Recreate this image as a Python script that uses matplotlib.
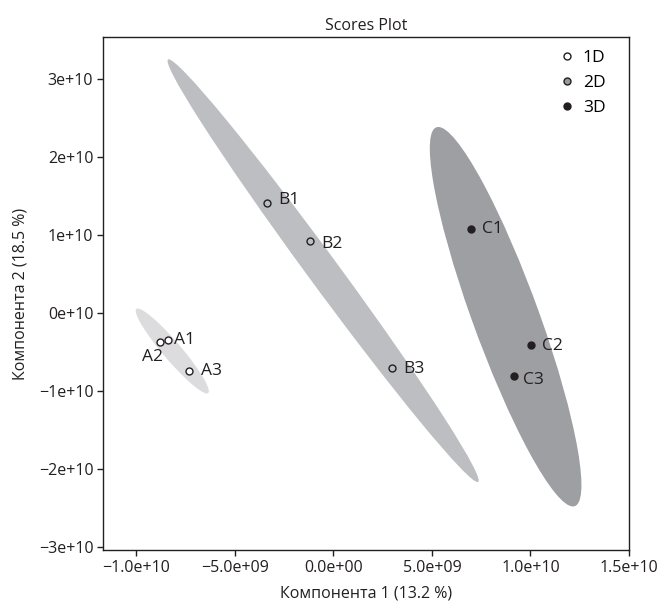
import numpy as np
import matplotlib
matplotlib.use("Agg")
import matplotlib.pyplot as plt
from matplotlib.patches import Ellipse
from matplotlib.lines import Line2D

plt.rcParams['font.family'] = ['Open Sans', 'DejaVu Sans']

# Data
groups = ["1D", "2D", "3D"]
labels_A = ["A1", "A2", "A3"]
x_A = [-8.40e9, -8.81e9, -7.34e9]
y_A = [-3.46e9, -3.72e9, -7.44e9]
labels_B = ["B1", "B2", "B3"]
x_B = [-3.37e9, -1.19e9, 2.98e9]
y_B = [14.1e9, 9.23e9, -7.05e9]
labels_C = ["C1", "C2", "C3"]
x_C = [6.99e9, 10.04e9, 9.18e9]
y_C = [10.77e9, -4.1e9, -8.1e9]

xticks = [-1.0e10, -5.0e9, 0.0, 5.0e9, 1.0e10, 1.5e10]
xticklabels = ["\u22121.0e+10", "\u22125.0e+09", "0.0e+00", "5.0e+09", "1.0e+10", "1.5e+10"]
yticks = [3e10, 2e10, 1e10, 0, -1e10, -2e10, -3e10]
yticklabels = ["3e+10", "2e+10", "1e+10", "0e+10", "\u22121e+10", "\u22122e+10", "\u22123e+10"]

ell_colors = ["#dcdcde", "#bdbec2", "#9e9fa3"]
pt_face = ["white", "#9a9a9a", "#231f20"]
pt_face_plot = ["white", "#bdbec2", "#231f20"]
edge = "#231f20"
txt = "#231f20"

fig = plt.figure(figsize=(6.57, 6.02), dpi=100)
ax = fig.add_axes([103/657, 1-550/602, 526/657, 513/602])

def conf_ellipse(xs, ys, color):
    xs = np.asarray(xs); ys = np.asarray(ys)
    cov = np.cov(xs, ys)
    vals, vecs = np.linalg.eigh(cov)
    order = vals.argsort()[::-1]
    vals, vecs = vals[order], vecs[:, order]
    t = np.sqrt(5.991464547107979)  # chi2(0.95, 2)
    w, h = 2 * t * np.sqrt(vals)
    ang = np.degrees(np.arctan2(vecs[1, 0], vecs[0, 0]))
    e = Ellipse((xs.mean(), ys.mean()), w, h, angle=ang, facecolor=color,
                edgecolor='none', zorder=1)
    ax.add_patch(e)

data = [(x_A, y_A, labels_A), (x_B, y_B, labels_B), (x_C, y_C, labels_C)]
for (xs, ys, labs), ec in zip(data, ell_colors):
    conf_ellipse(xs, ys, ec)

for (xs, ys, labs), fc in zip(data, pt_face_plot):
    ax.plot(xs, ys, 'o', ms=5, mfc=fc, mec=edge, mew=1.0, ls='none', zorder=3)

offsets = {"A1": (4, 0), "A2": (-13, -11), "A3": (9, 0),
           "B1": (8, 2), "B2": (8, -2), "B3": (8, -1),
           "C1": (8, 0), "C2": (8, -1), "C3": (6, -3)}
for xs, ys, labs in data:
    for x, y, l in zip(xs, ys, labs):
        dx, dy = offsets[l]
        ax.annotate(l, (x, y), xytext=(dx, dy), textcoords='offset points',
                    ha='left', va='center', fontsize=12.5, color=txt, zorder=4)

ax.set_xlim(-1.17e10, 1.5e10)
ax.set_ylim(-3.04e10, 3.54e10)
ax.set_xticks(xticks)
ax.set_xticklabels(xticklabels)
ax.set_yticks(yticks)
ax.set_yticklabels(yticklabels)
ax.tick_params(direction='out', length=4, width=1, colors=txt, labelsize=11.5, pad=3)
for s in ax.spines.values():
    s.set_color(txt)
    s.set_linewidth(1.0)

ax.set_xlabel("Компонента 1 (13.2 %)", fontsize=11.5, color=txt, labelpad=7)
ax.set_ylabel("Компонента 2 (18.5 %)", fontsize=11.5, color=txt, labelpad=7)
ax.set_title("Scores Plot", fontsize=11.5, color=txt, pad=5)

handles = [Line2D([], [], marker='o', ls='none', ms=5, mfc=fc, mec=edge, mew=1.0)
           for fc in pt_face]
ax.legend(handles, groups, loc='upper right', bbox_to_anchor=(0.955, 0.975),
          frameon=False, fontsize=12.5, borderpad=0, borderaxespad=0,
          handletextpad=0.4, labelspacing=0.5, handlelength=1.0)

fig.savefig("out.png", dpi=100)
